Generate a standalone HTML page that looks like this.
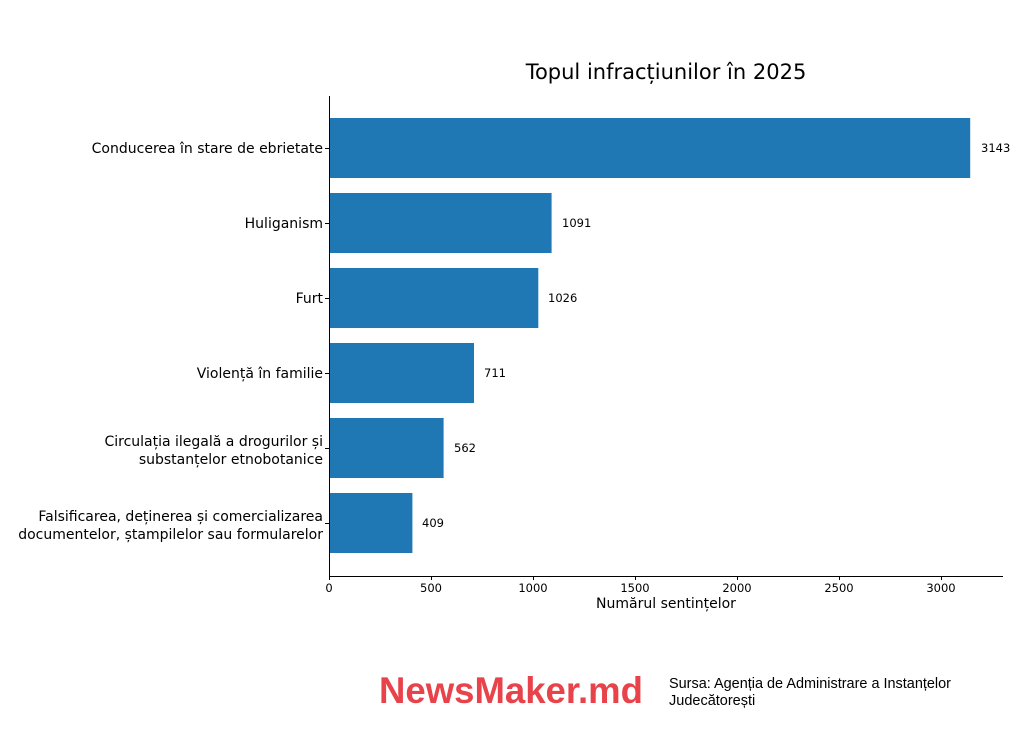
<!DOCTYPE html>
<html><head><meta charset="utf-8"><style>
html,body{margin:0;padding:0;background:#fff;}
svg{display:block;font-family:"DejaVu Sans",sans-serif;}
</style></head><body>
<svg width="1024" height="740" viewBox="0 0 1024 740" xmlns="http://www.w3.org/2000/svg">
<rect width="1024" height="740" fill="#fff"/>
<text x="666" y="79" font-size="21" text-anchor="middle" fill="#000">Topul infracțiunilor în 2025</text>
<g fill="#1f77b4">
<rect x="329" y="118" width="641.2" height="60"/>
<rect x="329" y="193" width="222.6" height="60"/>
<rect x="329" y="268" width="209.3" height="60"/>
<rect x="329" y="343" width="145" height="60"/>
<rect x="329" y="418" width="114.6" height="60"/>
<rect x="329" y="493" width="83.4" height="60"/>
</g>
<g font-size="11.5" fill="#000">
<text x="981" y="152">3143</text>
<text x="562" y="227">1091</text>
<text x="548" y="302">1026</text>
<text x="484" y="377">711</text>
<text x="454" y="452">562</text>
<text x="422" y="527">409</text>
</g>
<g font-size="14" fill="#000" text-anchor="end">
<text x="323" y="153">Conducerea în stare de ebrietate</text>
<text x="323" y="228">Huliganism</text>
<text x="323" y="303">Furt</text>
<text x="323" y="378">Violență în familie</text>
<text x="323" y="446">Circulația ilegală a drogurilor și</text>
<text x="323" y="464">substanțelor etnobotanice</text>
<text x="323" y="521">Falsificarea, deținerea și comercializarea</text>
<text x="323" y="539">documentelor, ștampilelor sau formularelor</text>
</g>
<g stroke="#000" stroke-width="1" fill="none">
<line x1="329.5" y1="96" x2="329.5" y2="576"/>
<line x1="329" y1="576.5" x2="1003" y2="576.5"/>
<line x1="329.5" y1="576" x2="329.5" y2="580"/>
<line x1="431.5" y1="576" x2="431.5" y2="580"/>
<line x1="533.5" y1="576" x2="533.5" y2="580"/>
<line x1="635.5" y1="576" x2="635.5" y2="580"/>
<line x1="737.5" y1="576" x2="737.5" y2="580"/>
<line x1="839.5" y1="576" x2="839.5" y2="580"/>
<line x1="941.5" y1="576" x2="941.5" y2="580"/>
<line x1="325" y1="148.5" x2="329" y2="148.5"/>
<line x1="325" y1="223.5" x2="329" y2="223.5"/>
<line x1="325" y1="298.5" x2="329" y2="298.5"/>
<line x1="325" y1="373.5" x2="329" y2="373.5"/>
<line x1="325" y1="448.5" x2="329" y2="448.5"/>
<line x1="325" y1="523.5" x2="329" y2="523.5"/>
</g>
<g font-size="11.5" fill="#000" text-anchor="middle">
<text x="329" y="592">0</text>
<text x="431" y="592">500</text>
<text x="533" y="592">1000</text>
<text x="635" y="592">1500</text>
<text x="737" y="592">2000</text>
<text x="839" y="592">2500</text>
<text x="941" y="592">3000</text>
</g>
<text x="666" y="608" font-size="14" text-anchor="middle" fill="#000">Numărul sentințelor</text>
<text x="379" y="703" font-family="'Liberation Sans',sans-serif" font-weight="bold" font-size="37" fill="#e8434a" textLength="264" lengthAdjust="spacingAndGlyphs">NewsMaker.md</text>
<g font-family="'Liberation Sans',sans-serif" font-size="14.5" fill="#000">
<text x="669" y="688" textLength="282" lengthAdjust="spacingAndGlyphs">Sursa: Agenția de Administrare a Instanțelor</text>
<text x="669" y="705">Judecătorești</text>
</g>
</svg>
</body></html>
